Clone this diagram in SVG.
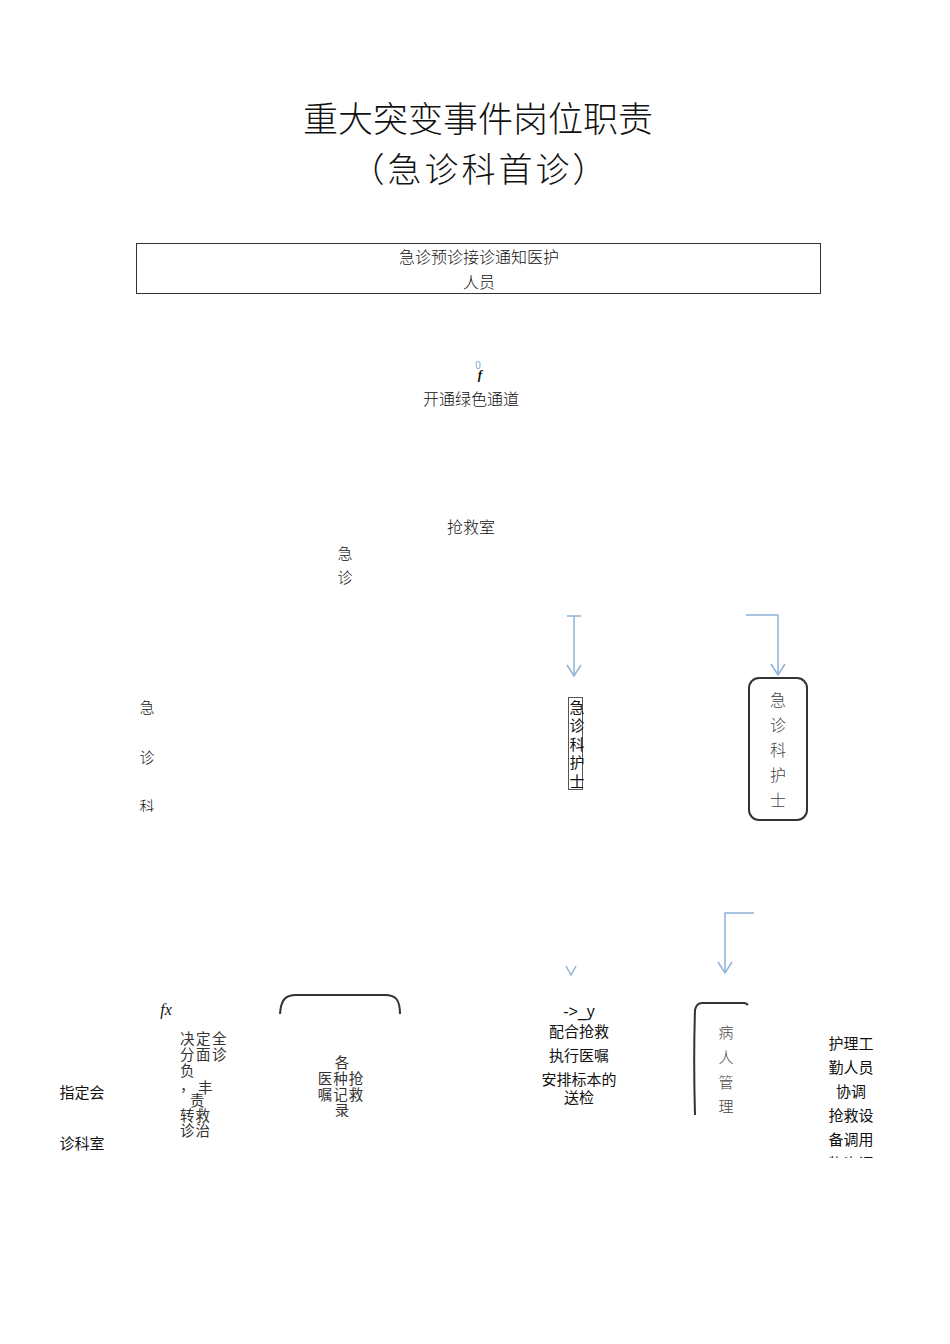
<svg xmlns="http://www.w3.org/2000/svg" width="950" height="1344" viewBox="0 0 950 1344">
<style>
.serif{font-family:"Noto Sans CJK SC","Liberation Serif",serif;font-weight:300;fill:#111}
.sans{font-family:"Noto Sans CJK SC","Liberation Sans",sans-serif;fill:#111}
.gray{font-family:"Noto Sans CJK SC","Liberation Sans",sans-serif;font-weight:300;fill:#444}
.conn{fill:none;stroke:#8fb3d6;stroke-width:1.5}
.brk{fill:none;stroke:#333;stroke-width:2}
</style>
<defs>
<marker id="v" viewBox="0 0 16 16" refX="15" refY="8" markerWidth="16" markerHeight="16" markerUnits="userSpaceOnUse" orient="auto">
<path d="M4,1 L15,8 L4,15" fill="none" stroke="#8fb3d6" stroke-width="1.5"/>
</marker>
<clipPath id="clipKe"><rect x="120" y="790" width="60" height="22"/></clipPath>
<clipPath id="clipR"><rect x="800" y="1030" width="100" height="128"/></clipPath>
<clipPath id="clipMid"><rect x="300" y="1040" width="90" height="77"/></clipPath>
</defs>

<g id="title">
<text class="serif" x="478" y="132" font-size="35" text-anchor="middle">重大突变事件岗位职责</text>
<text class="serif" x="480" y="182" font-size="34" letter-spacing="3" text-anchor="middle">（急诊科首诊）</text>
</g>

<g id="node-notify">
<rect x="136.5" y="243.5" width="684" height="50" fill="none" stroke="#333" stroke-width="1"/>
<text class="serif" x="479" y="263" font-size="16" text-anchor="middle">急诊预诊接诊通知医护</text>
<text class="serif" x="479" y="288" font-size="16" text-anchor="middle">人员</text>
</g>

<g id="node-green">
<text x="478" y="369" font-family="Liberation Sans,sans-serif" font-size="10" fill="#7fa7d0" text-anchor="middle">0</text>
<text x="480" y="379" font-family="Liberation Serif,serif" font-size="13" font-style="italic" font-weight="bold" fill="#111" text-anchor="middle">f</text>
<text class="serif" x="471" y="405" font-size="16" text-anchor="middle">开通绿色通道</text>
</g>

<g id="node-rescue">
<text class="serif" x="471" y="533" font-size="16" text-anchor="middle">抢救室</text>
</g>

<g id="node-ed-mid">
<text class="serif" x="345" y="559" font-size="15" text-anchor="middle">急</text>
<text class="serif" x="345" y="583" font-size="15" text-anchor="middle">诊</text>
</g>

<g id="node-ed-left">
<text class="serif" x="147" y="713" font-size="15" text-anchor="middle">急</text>
<text class="serif" x="147" y="763" font-size="15" text-anchor="middle">诊</text>
<text class="serif" x="147" y="812" font-size="15" text-anchor="middle" clip-path="url(#clipKe)">科</text>
</g>

<g id="node-nurse1">
<rect x="568.5" y="697.5" width="14" height="92" fill="none" stroke="#555" stroke-width="1"/>
<text class="sans" x="577" y="713" font-size="15" text-anchor="middle">急</text>
<text class="sans" x="577" y="731" font-size="15" text-anchor="middle">诊</text>
<text class="sans" x="577" y="750" font-size="15" text-anchor="middle">科</text>
<text class="sans" x="577" y="768" font-size="15" text-anchor="middle">护</text>
<text class="sans" x="577" y="787" font-size="15" text-anchor="middle">士</text>
</g>

<g id="node-nurse2">
<rect x="749" y="678" width="58" height="142" rx="10" fill="none" stroke="#333" stroke-width="2"/>
<text class="gray" x="778" y="706" font-size="16" text-anchor="middle">急</text>
<text class="gray" x="778" y="731" font-size="16" text-anchor="middle">诊</text>
<text class="gray" x="778" y="756" font-size="16" text-anchor="middle">科</text>
<text class="gray" x="778" y="781" font-size="16" text-anchor="middle">护</text>
<text class="gray" x="778" y="806" font-size="16" text-anchor="middle">士</text>
</g>

<g id="node-consult">
<text x="166" y="1015" font-family="Liberation Serif,serif" font-size="16" font-style="italic" fill="#111" text-anchor="middle">fx</text>
<text class="sans" x="82" y="1098" font-size="15" text-anchor="middle">指定会</text>
<text class="sans" x="82" y="1149" font-size="15" text-anchor="middle">诊科室</text>
</g>

<g id="node-decide" font-family="Noto Sans CJK SC,Liberation Sans,sans-serif" font-size="14.5" fill="#333">
<text x="180" y="1044" letter-spacing="1.5">决定全</text>
<text x="180" y="1060" letter-spacing="1.5">分面诊</text>
<text x="180" y="1076">负</text>
<text x="180" y="1091">，</text>
<text x="198" y="1093">丰</text>
<text x="190" y="1106">责</text>
<text x="180" y="1121" letter-spacing="1">转救</text>
<text x="180" y="1136" letter-spacing="1">诊治</text>
</g>

<g id="node-record">
<path class="brk" d="M280,1014 C281,1000 285,995 296,995 L385,995 C396,995 400,1000 400,1014"/>
<g font-family="Noto Sans CJK SC,Liberation Sans,sans-serif" font-size="14.5" fill="#333" clip-path="url(#clipMid)">
<text x="342" y="1068" text-anchor="middle">各</text>
<text x="341" y="1084" text-anchor="middle" letter-spacing="1">医种抢</text>
<text x="341" y="1100" text-anchor="middle" letter-spacing="1">嘱记救</text>
<text x="342" y="1116" text-anchor="middle">录</text>
</g>
</g>

<g id="node-assist">
<text x="579" y="1017" font-family="Liberation Sans,sans-serif" font-size="16" fill="#111" text-anchor="middle">-&gt;_y</text>
<text class="sans" x="579" y="1037" font-size="15" text-anchor="middle">配合抢救</text>
<text class="sans" x="579" y="1061" font-size="15" text-anchor="middle">执行医嘱</text>
<text class="sans" x="579" y="1085" font-size="15" text-anchor="middle">安排标本的</text>
<text class="sans" x="579" y="1103" font-size="15" text-anchor="middle">送检</text>
</g>

<g id="node-patient">
<path class="brk" d="M695,1115 C694,1080 694,1040 695,1010 C696,1005 698,1003 702,1003 L744,1003 C746,1003 747,1004 748,1005"/>
<text class="gray" x="726" y="1038" font-size="15" text-anchor="middle">病</text>
<text class="gray" x="726" y="1063" font-size="15" text-anchor="middle">人</text>
<text class="gray" x="726" y="1088" font-size="15" text-anchor="middle">管</text>
<text class="gray" x="726" y="1112" font-size="15" text-anchor="middle">理</text>
</g>

<g id="node-workers" clip-path="url(#clipR)">
<text class="sans" x="851" y="1049" font-size="15" text-anchor="middle">护理工</text>
<text class="sans" x="851" y="1073" font-size="15" text-anchor="middle">勤人员</text>
<text class="sans" x="851" y="1097" font-size="15" text-anchor="middle">协调</text>
<text class="sans" x="851" y="1121" font-size="15" text-anchor="middle">抢救设</text>
<text class="sans" x="851" y="1145" font-size="15" text-anchor="middle">备调用</text>
<text class="sans" x="851" y="1169" font-size="15" text-anchor="middle">物资调</text>
</g>

<g id="connectors">
<path class="conn" d="M567,616 L581,616 M574,616 L574,676" marker-end="url(#v)"/>
<path class="conn" d="M746,615 L778,615 L778,675" marker-end="url(#v)"/>
<path class="conn" d="M754,913 L725,913 L725,973" marker-end="url(#v)"/>
<path class="conn" d="M566,966 L571,975 L576,966"/>
</g>
</svg>
